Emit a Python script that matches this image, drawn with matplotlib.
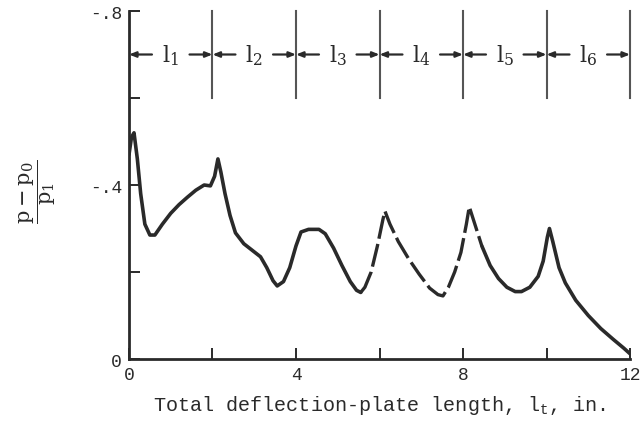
import numpy as np
import matplotlib
matplotlib.use("Agg")
import matplotlib.pyplot as plt

# --- data ---
x_len = [0.00, 0.06, 0.12, 0.20, 0.28, 0.38, 0.50, 0.62, 0.80, 1.00, 1.20, 1.40,
         1.60, 1.80, 1.95, 2.05, 2.13, 2.20, 2.30, 2.42, 2.55, 2.75, 2.95, 3.15,
         3.30, 3.45, 3.55, 3.70, 3.85, 4.00, 4.12, 4.30, 4.55, 4.70, 4.90, 5.10,
         5.30, 5.45, 5.55, 5.65, 5.80, 5.95, 6.08, 6.13, 6.25, 6.45, 6.70, 6.95,
         7.20, 7.40, 7.52, 7.65, 7.80, 7.95, 8.08, 8.15, 8.25, 8.45, 8.65, 8.85,
         9.05, 9.25, 9.40, 9.60, 9.80, 9.92, 10.02, 10.07, 10.15, 10.30, 10.45,
         10.70, 11.00, 11.30, 11.60, 11.85, 12.00]
dp = [0.47, 0.51, 0.52, 0.46, 0.38, 0.31, 0.285, 0.285, 0.31, 0.335, 0.355, 0.372,
      0.388, 0.400, 0.398, 0.42, 0.46, 0.43, 0.38, 0.33, 0.29, 0.265, 0.25, 0.235,
      0.21, 0.18, 0.168, 0.178, 0.21, 0.26, 0.292, 0.298, 0.298, 0.288, 0.255, 0.215,
      0.178, 0.158, 0.153, 0.165, 0.20, 0.26, 0.32, 0.34, 0.31, 0.27, 0.23, 0.195,
      0.163, 0.148, 0.145, 0.165, 0.20, 0.245, 0.31, 0.35, 0.32, 0.26, 0.215, 0.185,
      0.165, 0.155, 0.155, 0.165, 0.19, 0.225, 0.28, 0.30, 0.27, 0.21, 0.175,
      0.135, 0.10, 0.07, 0.045, 0.025, 0.012]
dash_from, dash_to = 5.55, 8.45   # faint / dashed part of the trace

plate_edges = [0, 2, 4, 6, 8, 10, 12]
plate_labels = ['1', '2', '3', '4', '5', '6']

xticks = [0, 2, 4, 6, 8, 10, 12]
xticklabels = ['0', '', '4', '', '8', '', '12']
yticks = [0, 0.2, 0.4, 0.6, 0.8]
yticklabels = ['0', '', '-.4', '', '-.8']

ink = '#2a2a2a'
mono = ['Liberation Mono', 'DejaVu Sans Mono']

fig = plt.figure(figsize=(6.44, 4.35), dpi=100)
ax = fig.add_axes([0.2003, 0.1724, 0.778, 0.80])

x = np.array(x_len)
y = np.array(dp)
solid1 = x <= dash_from
dashed = (x >= dash_from) & (x <= dash_to)
solid2 = x >= dash_to
ax.plot(x[solid1], y[solid1], color=ink, lw=2.6, solid_joinstyle='round', solid_capstyle='round')
ax.plot(x[dashed], y[dashed], color=ink, lw=2.4, ls=(0, (7, 1.6)), dash_joinstyle='round')
ax.plot(x[solid2], y[solid2], color=ink, lw=2.6, solid_joinstyle='round', solid_capstyle='round')

# plate-length dimension marks along the top
for e in plate_edges[1:]:
    ax.plot([e, e], [0.60, 0.80], color='#555555', lw=1.5, clip_on=False)
for i, lab in enumerate(plate_labels):
    s, e = plate_edges[i], plate_edges[i + 1]
    m = (s + e) / 2
    for a, b in [(s + 0.55, s), (e - 0.55, e)]:
        ax.annotate('', xy=(b, 0.70), xytext=(a, 0.70),
                    arrowprops=dict(arrowstyle='-|>,head_length=0.4,head_width=0.16',
                                    color=ink, lw=1.6, shrinkA=0, shrinkB=0),
                    annotation_clip=False)
    ax.text(m, 0.70, r'$\mathregular{l_%s}$' % lab, ha='center', va='center',
            fontsize=16, color=ink, family='DejaVu Serif')

ax.set_xlim(0, 12)
ax.set_ylim(0, 0.8)
for side in ['top', 'right']:
    ax.spines[side].set_visible(False)
ax.spines['left'].set_linewidth(2.0)
ax.spines['bottom'].set_linewidth(2.0)
ax.spines['left'].set_color(ink)
ax.spines['bottom'].set_color(ink)

ax.set_xticks(xticks)
ax.set_xticklabels(xticklabels)
ax.set_yticks(yticks)
ax.set_yticklabels(yticklabels)
ax.tick_params(direction='in', length=8, width=1.4, colors=ink, labelsize=13, pad=5)
for t in ax.get_xticklabels() + ax.get_yticklabels():
    t.set_family(mono)

fig.text(380 / 644, 1 - 406 / 435, r'Total deflection-plate length, $\mathregular{l_t}$, in.',
         ha='center', va='center', fontsize=14.5, family=mono, color=ink)
fig.text(38 / 644, 1 - 192 / 435, r'$\mathregular{\dfrac{p - p_0}{p_1}}$', rotation=90,
         ha='center', va='center', fontsize=15, color=ink, family='DejaVu Serif')

plt.savefig('out.png', dpi=100)
